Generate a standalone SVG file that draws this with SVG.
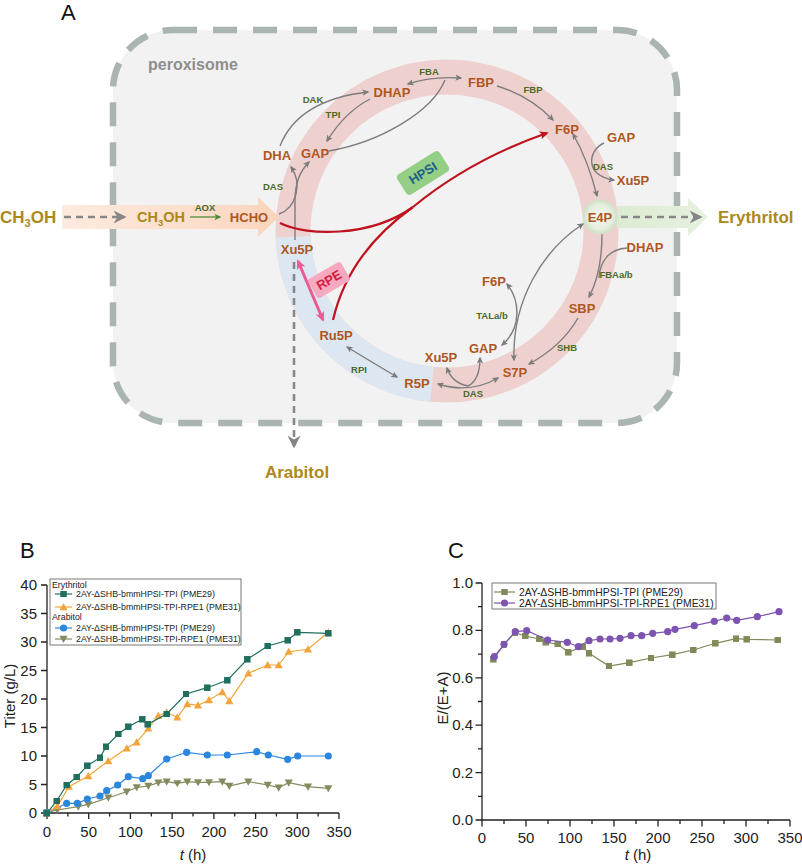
<svg xmlns="http://www.w3.org/2000/svg" width="802" height="864" viewBox="0 0 802 864">
<style>
text{font-family:'Liberation Sans',Arial,sans-serif}
.met{font-size:13px;font-weight:bold;fill:#b0561e;text-anchor:middle;dominant-baseline:central}
.enz{font-size:9.5px;font-weight:bold;fill:#4a6a2b;text-anchor:middle;dominant-baseline:central}
.gold{font-weight:bold;fill:#ad881b}
.conn{fill:none;stroke:#7d7d7d;stroke-width:1.4}
.red{fill:none;stroke:#c0121e;stroke-width:2.2}
.dash{fill:none;stroke:#888;stroke-width:2.6;stroke-dasharray:7 5}
.ax{stroke:#222;stroke-width:1.3;fill:none}
.tk{font-size:15px;fill:#222}
.lg{font-size:8.8px;fill:#222}
.lgc{font-size:10.4px;fill:#222}
.ser{fill:none;stroke-width:1.2}
</style>
<defs>
<marker id="g" viewBox="0 0 10 10" refX="8" refY="5" markerWidth="7" markerHeight="7" markerUnits="userSpaceOnUse" orient="auto-start-reverse"><path d="M0,0.5 L10,5 L0,9.5 L2.5,5 z" fill="#7a7a7a"/></marker>
<marker id="r" viewBox="0 0 10 10" refX="8" refY="5" markerWidth="9" markerHeight="9" markerUnits="userSpaceOnUse" orient="auto"><path d="M0,0.5 L10,5 L0,9.5 L2.5,5 z" fill="#c0121e"/></marker>
<marker id="p" viewBox="0 0 10 10" refX="8" refY="5" markerWidth="10" markerHeight="10" markerUnits="userSpaceOnUse" orient="auto-start-reverse"><path d="M0,0.5 L10,5 L0,9.5 L2.5,5 z" fill="#e95b92"/></marker>
<marker id="d" viewBox="0 0 10 10" refX="8" refY="5" markerWidth="13" markerHeight="13" markerUnits="userSpaceOnUse" orient="auto"><path d="M0,0 L10,5 L0,10 L3,5 z" fill="#858585"/></marker>
<marker id="gr" viewBox="0 0 10 10" refX="8" refY="5" markerWidth="7" markerHeight="7" markerUnits="userSpaceOnUse" orient="auto"><path d="M0,0.5 L10,5 L0,9.5 L2.5,5 z" fill="#4e8b3c"/></marker>
<marker id="mSqT" viewBox="-4 -4 8 8" markerWidth="6.5" markerHeight="6.5" markerUnits="userSpaceOnUse"><rect x="-4" y="-4" width="8" height="8" fill="#1f6e5e"/></marker>
<marker id="mTuO" viewBox="-5 -5 10 10" markerWidth="9" markerHeight="9" markerUnits="userSpaceOnUse"><path d="M0,-4.5 L4.5,3.5 L-4.5,3.5 z" fill="#f2a43a"/></marker>
<marker id="mCiB" viewBox="-5 -5 10 10" markerWidth="8" markerHeight="8" markerUnits="userSpaceOnUse"><circle r="4.5" fill="#2b86de"/></marker>
<marker id="mTdG" viewBox="-5 -5 10 10" markerWidth="9" markerHeight="9" markerUnits="userSpaceOnUse"><path d="M0,4.5 L4.5,-3.5 L-4.5,-3.5 z" fill="#838b5e"/></marker>
<marker id="mSqG" viewBox="-4 -4 8 8" markerWidth="6.5" markerHeight="6.5" markerUnits="userSpaceOnUse"><rect x="-4" y="-4" width="8" height="8" fill="#7f8a58"/></marker>
<marker id="mCiP" viewBox="-5 -5 10 10" markerWidth="8" markerHeight="8" markerUnits="userSpaceOnUse"><circle r="4.5" fill="#7d55b0"/></marker>
<linearGradient id="peach" x1="0" x2="1" y1="0" y2="0"><stop offset="0" stop-color="#fdebdf"/><stop offset="1" stop-color="#fbd5bd"/></linearGradient>
<linearGradient id="lgreen" x1="0" x2="1" y1="0" y2="0"><stop offset="0" stop-color="#dcebd2"/><stop offset="1" stop-color="#e6f1df"/></linearGradient>
<radialGradient id="e4pg"><stop offset="0" stop-color="#f3f7f0"/><stop offset="0.7" stop-color="#e6efe0"/><stop offset="1" stop-color="#d0e1c6"/></radialGradient>
</defs>

<g id="label-A"><text x="61" y="20" font-size="22" fill="#111">A</text></g>

<g id="peroxisome">
<rect x="113" y="30" width="564" height="393" rx="60" fill="#f2f2f2" stroke="#aab4b1" stroke-width="6.5" stroke-dasharray="24 16"/>
<text x="148" y="70" font-size="16" font-weight="bold" fill="#8e8e8e">peroxisome</text>
</g>

<g id="cycle-ring">
<circle cx="447" cy="231" r="154" fill="none" stroke="#eed1cf" stroke-width="35"/>
<path d="M432,384.3 A154,154 0 0 1 293.1,236.9" fill="none" stroke="#dde7f2" stroke-width="35"/>
</g>

<g id="methanol-flux">
<path d="M62,205 L258,205 L258,197 L279,217 L258,237 L258,229 L62,229 z" fill="url(#peach)"/>
</g>
<g id="erythritol-flux">
<path d="M617,206 L688,206 L688,198 L708,217 L688,236 L688,228 L617,228 z" fill="url(#lgreen)"/>
</g>

<g id="connectors">
<path class="dash" d="M64,217 L124,217" marker-end="url(#d)"/>
<path d="M190,217 L220,217" fill="none" stroke="#4e8b3c" stroke-width="1.3" marker-end="url(#gr)"/>
<path class="dash" d="M621,217 L700,217" marker-end="url(#d)"/>
<path class="dash" d="M294,262 L294,446" marker-end="url(#d)"/>
<path class="conn" d="M279,214 C296,208 303,184 291,167" marker-end="url(#g)"/>
<path class="conn" d="M295,240 L295,200 Q295,176 309,162" marker-end="url(#g)"/>
<path class="conn" d="M280,146 Q298,100 368,92" marker-end="url(#g)"/>
<path class="conn" d="M370,99 Q345,112 327,141" marker-end="url(#g)"/>
<path class="conn" d="M329,151 C380,142 432,112 445,80"/>
<path class="conn" d="M408,84 Q432,76 461,78" marker-start="url(#g)" marker-end="url(#g)"/>
<path class="conn" d="M497,86 Q530,96 553,120" marker-end="url(#g)"/>
<path class="conn" d="M573,134 Q588,160 597,196" marker-start="url(#g)" marker-end="url(#g)"/>
<path class="conn" d="M604,143 C588,150 584,176 614,180" marker-end="url(#g)"/>
<path class="conn" d="M602,234 C602,262 597,282 589,297" marker-end="url(#g)"/>
<path class="conn" d="M627,248 C610,249 600,260 599,278"/>
<path class="conn" d="M578,318 Q562,346 529,364" marker-end="url(#g)"/>
<path class="conn" d="M498,378 Q470,394 438,384" marker-start="url(#g)" marker-end="url(#g)"/>
<path class="conn" d="M468,386 Q452,383 447,368" marker-end="url(#g)"/>
<path class="conn" d="M468,386 Q480,380 480,358" marker-end="url(#g)"/>
<path class="conn" d="M583,224 C543,250 512,300 514,360" marker-start="url(#g)" marker-end="url(#g)"/>
<path class="conn" d="M507,284 C520,300 522,328 502,345" marker-start="url(#g)" marker-end="url(#g)"/>
<path class="conn" d="M347,347 Q375,364 397,377" marker-start="url(#g)" marker-end="url(#g)"/>
<path d="M298,261 L323,320" fill="none" stroke="#e95b92" stroke-width="3" marker-start="url(#p)" marker-end="url(#p)"/>
<path class="red" d="M280,223 C305,236 370,238 413,207"/>
<path class="red" d="M333,320 C345,268 378,232 413,207"/>
<path class="red" d="M413,207 Q470,160 547,133" marker-end="url(#r)"/>
</g>

<g id="node-CH3OH-out"><text x="0" y="223" font-size="17" class="gold">CH<tspan font-size="11" dy="4">3</tspan><tspan dy="-4">OH</tspan></text></g>
<g id="node-CH3OH-in"><text x="137" y="222" font-size="14.5" class="gold">CH<tspan font-size="9.5" dy="3.5">3</tspan><tspan dy="-3.5">OH</tspan></text></g>
<g id="enz-AOX"><text class="enz" x="205" y="207">AOX</text></g>
<g id="node-HCHO"><text class="met" x="249" y="217" font-size="13.5">HCHO</text></g>
<g id="node-DHA"><text class="met" x="277" y="155">DHA</text></g>
<g id="node-GAP1"><text class="met" x="315" y="153">GAP</text></g>
<g id="node-DHAP1"><text class="met" x="392" y="92">DHAP</text></g>
<g id="node-FBP"><text class="met" x="481" y="82">FBP</text></g>
<g id="node-F6P1"><text class="met" x="567" y="129">F6P</text></g>
<g id="node-GAP2"><text class="met" x="621" y="137">GAP</text></g>
<g id="node-Xu5P2"><text class="met" x="633" y="180">Xu5P</text></g>
<g id="node-E4P"><circle cx="600" cy="217" r="17" fill="url(#e4pg)" stroke="#d3e2cb" stroke-width="1"/><text class="met" x="600" y="217">E4P</text></g>
<g id="node-DHAP2"><text class="met" x="645" y="247">DHAP</text></g>
<g id="node-SBP"><text class="met" x="582" y="308">SBP</text></g>
<g id="node-S7P"><text class="met" x="515" y="372">S7P</text></g>
<g id="node-GAP3"><text class="met" x="483" y="348">GAP</text></g>
<g id="node-F6P2"><text class="met" x="494" y="281">F6P</text></g>
<g id="node-Xu5P3"><text class="met" x="441" y="357">Xu5P</text></g>
<g id="node-R5P"><text class="met" x="417" y="383">R5P</text></g>
<g id="node-Ru5P"><text class="met" x="336" y="335">Ru5P</text></g>
<g id="node-Xu5P1"><text class="met" x="297" y="249">Xu5P</text></g>
<g id="node-Erythritol"><text x="718" y="223" font-size="17" class="gold">Erythritol</text></g>
<g id="node-Arabitol"><text x="297" y="478" font-size="17" class="gold" text-anchor="middle">Arabitol</text></g>

<g id="enzymes">
<text class="enz" x="313" y="99">DAK</text>
<text class="enz" x="333" y="114">TPI</text>
<text class="enz" x="273" y="186">DAS</text>
<text class="enz" x="429" y="71">FBA</text>
<text class="enz" x="533" y="89">FBP</text>
<text class="enz" x="603" y="166">DAS</text>
<text class="enz" x="616" y="274">FBAa/b</text>
<text class="enz" x="567" y="347">SHB</text>
<text class="enz" x="492" y="315">TALa/b</text>
<text class="enz" x="473" y="393">DAS</text>
<text class="enz" x="359" y="369">RPI</text>
</g>

<g id="node-HPSI" transform="translate(423,173) rotate(-32)">
<rect x="-25" y="-12" width="50" height="24" rx="4" fill="#95cf86"/>
<text x="0" y="0" font-size="13" font-weight="bold" fill="#1f5f86" text-anchor="middle" dominant-baseline="central">HPSI</text>
</g>
<g id="node-RPE" transform="translate(329,280) rotate(-30)">
<rect x="-19" y="-11" width="38" height="22" rx="3" fill="#f7a9c0"/>
<text x="0" y="0" font-size="13" font-weight="bold" fill="#d31c3d" text-anchor="middle" dominant-baseline="central">RPE</text>
</g>

<!-- Chart B -->
<g id="chart-B">
<text x="20" y="558" font-size="22" fill="#111">B</text>
<path class="ax" d="M47,585 L47,813 L339,813"/>
<path class="ax" d="M47,813v6M88.7,813v6M130.4,813v6M172.1,813v6M213.9,813v6M255.6,813v6M297.3,813v6M339,813v6M67.9,813v3.5M109.6,813v3.5M151.3,813v3.5M193,813v3.5M234.7,813v3.5M276.4,813v3.5M318.1,813v3.5M41,813h6M41,784.5h6M41,756h6M41,727.5h6M41,699h6M41,670.5h6M41,642h6M41,613.5h6M41,585h6"/>
<g class="tk" text-anchor="end">
<text x="37" y="818">0</text><text x="37" y="789.5">5</text><text x="37" y="761">10</text><text x="37" y="732.5">15</text><text x="37" y="704">20</text><text x="37" y="675.5">25</text><text x="37" y="647">30</text><text x="37" y="618.5">35</text><text x="37" y="590">40</text>
</g>
<g class="tk" text-anchor="middle">
<text x="47" y="837">0</text><text x="88.7" y="837">50</text><text x="130.4" y="837">100</text><text x="172.1" y="837">150</text><text x="213.9" y="837">200</text><text x="255.6" y="837">250</text><text x="297.3" y="837">300</text><text x="339" y="837">350</text>
</g>
<text class="tk" x="193" y="860" text-anchor="middle"><tspan font-style="italic">t</tspan> (h)</text>
<text class="tk" transform="translate(15,696) rotate(-90)" text-anchor="middle">Titer (g/L)</text>
<polyline class="ser" stroke="#838b5e" marker-start="url(#mTdG)" marker-mid="url(#mTdG)" marker-end="url(#mTdG)" points="46.7,812.7 57.3,810 78.3,806.7 88.3,804.3 108.3,797.7 126.7,791.7 136.7,787.3 148.3,786 158.3,782.7 166.7,781.7 177.3,783.3 187.3,781.7 198,782.3 209,782.3 222.3,781.7 229.3,786 248.3,781.7 267.7,785 278.7,787.7 288.7,782.7 308,786.7 328.3,788.3"/>
<polyline class="ser" stroke="#2b86de" marker-start="url(#mCiB)" marker-mid="url(#mCiB)" marker-end="url(#mCiB)" points="46.7,812.7 66.7,803.3 77.3,803.3 87.3,799 100,796 106.7,790.7 117.7,785 128.3,776.7 142.7,778.7 148.3,775.7 166.7,759 186.7,752.3 207.3,755 227.3,755 256.7,751.7 268.3,755 287.7,759.3 297.7,756 328.3,756"/>
<polyline class="ser" stroke="#f2a43a" marker-start="url(#mTuO)" marker-mid="url(#mTuO)" marker-end="url(#mTuO)" points="46.7,813.3 57.3,806 69,786.7 88.3,776 108.3,761 126.7,748.3 136.7,742.3 148.3,728.3 158.3,715.7 166.7,712.3 177.3,717.3 187.3,704 198,705.3 209,700 222.3,692 229.3,701 248.3,673.3 267.7,665 278.7,665 288.7,651.7 308,649.3 328.3,632.3"/>
<polyline class="ser" stroke="#1f6e5e" marker-start="url(#mSqT)" marker-mid="url(#mSqT)" marker-end="url(#mSqT)" points="46.7,813.3 56.7,801 66.7,785 76.7,777 87.3,765.7 100,757.7 106,746.7 118.3,734 128.3,726.7 142.3,719.3 147.7,724.3 166.7,714 186,694 207.3,687.7 227.3,680.3 247.3,659.3 267.7,646 287.7,640.3 297.3,632.3 328.3,633.3"/>
<g id="legend-B">
<rect x="50" y="579" width="191" height="66" fill="#fff" stroke="#555" stroke-width="0.8"/>
<text class="lg" x="52" y="588">Erythritol</text>
<polyline class="ser" stroke="#1f6e5e" marker-mid="url(#mSqT)" points="55,594 63.5,594 72,594"/>
<text class="lg" x="76" y="597">2AY-ΔSHB-bmmHPSI-TPI (PME29)</text>
<polyline class="ser" stroke="#f2a43a" marker-mid="url(#mTuO)" points="55,607 63.5,607 72,607"/>
<text class="lg" x="76" y="610">2AY-ΔSHB-bmmHPSI-TPI-RPE1 (PME31)</text>
<text class="lg" x="52" y="620">Arabitol</text>
<polyline class="ser" stroke="#2b86de" marker-mid="url(#mCiB)" points="55,628 63.5,628 72,628"/>
<text class="lg" x="76" y="631">2AY-ΔSHB-bmmHPSI-TPI (PME29)</text>
<polyline class="ser" stroke="#838b5e" marker-mid="url(#mTdG)" points="55,639 63.5,639 72,639"/>
<text class="lg" x="76" y="642">2AY-ΔSHB-bmmHPSI-TPI-RPE1 (PME31)</text>
</g>
</g>

<!-- Chart C -->
<g id="chart-C">
<text x="448" y="558" font-size="22" fill="#111">C</text>
<path class="ax" d="M482,583 L482,820 L790,820"/>
<path class="ax" d="M482,820v6.5M526,820v6.5M570,820v6.5M614,820v6.5M658,820v6.5M702,820v6.5M746,820v6.5M790,820v6.5M504,820v4M548,820v4M592,820v4M636,820v4M680,820v4M724,820v4M768,820v4M475.5,820h6.5M475.5,772.6h6.5M475.5,725.2h6.5M475.5,677.8h6.5M475.5,630.4h6.5M475.5,583h6.5M478,796.3h4M478,748.9h4M478,701.5h4M478,654.1h4M478,606.7h4"/>
<g class="tk" text-anchor="end">
<text x="473" y="825">0.0</text><text x="473" y="777.6">0.2</text><text x="473" y="730.2">0.4</text><text x="473" y="682.8">0.6</text><text x="473" y="635.4">0.8</text><text x="473" y="588">1.0</text>
</g>
<g class="tk" text-anchor="middle">
<text x="482" y="843">0</text><text x="526" y="843">50</text><text x="570" y="843">100</text><text x="614" y="843">150</text><text x="658" y="843">200</text><text x="702" y="843">250</text><text x="746" y="843">300</text><text x="790" y="843">350</text>
</g>
<text class="tk" x="638" y="860" text-anchor="middle"><tspan font-style="italic">t</tspan> (h)</text>
<text class="tk" transform="translate(448,698) rotate(-90)" text-anchor="middle">E/(E+A)</text>
<polyline class="ser" stroke="#7f8a58" marker-start="url(#mSqG)" marker-mid="url(#mSqG)" marker-end="url(#mSqG)" points="493.3,659.3 504,644.3 515,632.7 525.3,636 539.3,639 545.7,642.3 557.7,644 568.3,652.3 582.7,646.7 589,653.3 609,666 629.3,662.7 651,658 672.3,654.7 693.3,650 715.3,643.3 736,638.7 746.7,639.3 777.7,640"/>
<polyline class="ser" stroke="#7d55b0" marker-start="url(#mCiP)" marker-mid="url(#mCiP)" marker-end="url(#mCiP)" points="494.3,656.7 504,644.3 515.3,631.7 526.7,630.7 547.7,640 567.3,642.3 578.3,646.7 589,640.7 600,639 610,639 620,638.3 631,635.7 641.7,635.7 652.7,633.3 667.7,631.7 675,629.3 694.3,625.7 714.3,621.3 726.7,618 736.7,620.3 757.3,616.7 779,611.7"/>
<g id="legend-C">
<rect x="492" y="583" width="224" height="26" fill="#fff" stroke="#555" stroke-width="0.8"/>
<polyline class="ser" stroke="#7f8a58" marker-mid="url(#mSqG)" points="494,592 504.5,592 515,592"/>
<text class="lgc" x="519" y="595.5">2AY-ΔSHB-bmmHPSI-TPI (PME29)</text>
<polyline class="ser" stroke="#7d55b0" marker-mid="url(#mCiP)" points="494,603 504.5,603 515,603"/>
<text class="lgc" x="519" y="606.5">2AY-ΔSHB-bmmHPSI-TPI-RPE1 (PME31)</text>
</g>
</g>
</svg>
